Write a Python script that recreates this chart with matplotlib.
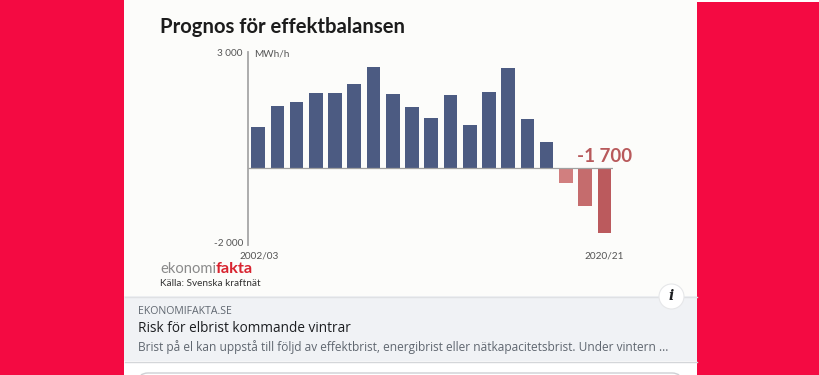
import matplotlib
matplotlib.use("Agg")
import matplotlib.pyplot as plt
from matplotlib.patches import Rectangle, Circle, FancyBboxPatch

# effektbalans, MWh/h, one bar per winter
years = ["2002/03", "2003/04", "2004/05", "2005/06", "2006/07", "2007/08", "2008/09",
         "2009/10", "2010/11", "2011/12", "2012/13", "2013/14", "2014/15", "2015/16",
         "2016/17", "2017/18", "2018/19", "2019/20", "2020/21"]
balance = [1060, 1600, 1705, 1940, 1940, 2170, 2610, 1910, 1560, 1275,
           1870, 1100, 1950, 2585, 1260, 655, -400, -1000, -1700]
bar_colors = ["#4c5b82"] * 16 + ["#d17f7f", "#c56c6d", "#bb5a5d"]

W, H = 820, 375
plt.rcParams["font.family"] = ["Lato", "DejaVu Sans"]

fig = plt.figure(figsize=(W / 100, H / 100), dpi=100, facecolor="#f40a42")

# page in pixel coordinates
bg = fig.add_axes([0, 0, 1, 1])
bg.set_xlim(0, W)
bg.set_ylim(H, 0)
bg.axis("off")
bg.add_patch(Rectangle((124.5, 0), 572.5, 375, facecolor="white", edgecolor="none"))
bg.add_patch(Rectangle((124.5, 0), 572.5, 296, facecolor="#fcfcfa", edgecolor="none"))
bg.add_patch(Rectangle((124.5, 296), 572.5, 65, facecolor="#f0f2f5", edgecolor="none"))
bg.plot([125, 697], [296.5, 296.5], color="#dfe1e4", lw=1)
bg.plot([125, 697], [361.5, 361.5], color="#d4d6d9", lw=1)
bg.add_patch(Rectangle((697, 0), 123, 2, facecolor="white", edgecolor="none"))
bg.add_patch(FancyBboxPatch((138, 373), 544, 20, boxstyle="round,pad=0,rounding_size=10",
                            facecolor="white", edgecolor="#ced0d4", lw=1))

# chart
ax = fig.add_axes([248.5 / W, 1 - 245 / H, (613 - 248.5) / W, (245 - 51.7) / H])
ax.patch.set_alpha(0)
ax.bar(range(len(balance)), balance, width=0.71, color=bar_colors)
ax.set_xlim(-0.5, 18.45)
ax.set_ylim(-2000, 3000)
ax.set_xticks([])
ax.set_yticks([])
for s in ["top", "right", "bottom"]:
    ax.spines[s].set_visible(False)
ax.spines["left"].set_color("#a6a6a6")
ax.spines["left"].set_linewidth(1.3)
ax.axhline(0, color="#a0a0a0", lw=0.9, zorder=1)

# chart texts
bg.text(160.5, 27, "Prognos för effektbalansen", fontsize=14.6, fontweight="bold",
        color="#1c1c1c", va="center", ha="left")
bg.text(243, 54, "3 000", fontsize=7.2, color="#555555", ha="right", va="center")
bg.text(254, 54, "MWh/h", fontsize=7.2, color="#555555", ha="left", va="center")
bg.text(243, 244, "-2 000", fontsize=7.2, color="#555555", ha="right", va="center")
bg.text(239, 256, years[0], fontsize=7.2, color="#555555", ha="left", va="center")
bg.text(604.5, 256, years[-1], fontsize=7.2, color="#555555", ha="center", va="center")
bg.text(604.5, 156, "-1 700", fontsize=13.5, fontweight="bold", color="#b8595b",
        ha="center", va="center")

# logo and source
bg.text(160, 269, "ekonomi", fontsize=10.6, color="#8a8a8a", ha="left", va="center")
bg.text(216, 269, "fakta", fontsize=11.8, fontweight="bold", color="#d8232f", ha="left", va="center")
bg.text(160, 283.5, "Källa: Svenska kraftnät", fontsize=7.2, color="#333333", ha="left", va="center")

# link preview
bg.text(138, 311, "EKONOMIFAKTA.SE", fontsize=7.6, color="#606770", ha="left", va="center",
        family=["Open Sans", "DejaVu Sans"])
bg.text(138, 329, "Risk för elbrist kommande vintrar", fontsize=9.8, color="#1c1e21",
        ha="left", va="center", family=["Open Sans", "DejaVu Sans"])
bg.text(138, 347, "Brist på el kan uppstå till följd av effektbrist, energibrist eller "
        "nätkapacitetsbrist. Under vintern ...", fontsize=8.55, color="#606770",
        ha="left", va="center", family=["Open Sans", "DejaVu Sans"])

# info button
bg.add_patch(Circle((671.5, 296.5), 12.5, facecolor="white", edgecolor="#e6e7e9", lw=0.8, zorder=5))
bg.text(671.5, 296.5, "i", fontsize=10, fontweight="bold", fontstyle="italic", color="#1c1e21",
        ha="center", va="center", family=["DejaVu Serif"], zorder=6)

fig.savefig("out.png", dpi=100, facecolor=fig.get_facecolor())
